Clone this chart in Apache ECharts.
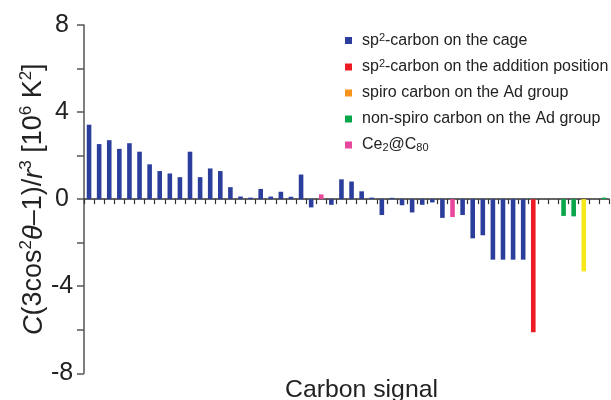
<!DOCTYPE html>
<html>
<head>
<meta charset="utf-8">
<script src="https://cdn.jsdelivr.net/npm/echarts@6/dist/echarts.min.js"></script>
<style>
html,body{margin:0;padding:0;background:#fff;}
#chart{width:611px;height:400px;}
</style>
</head>
<body>
<div id="chart"></div>
<script>
const categories = ['1','2','3','4','5','6','7','8','9','10','11','12','13','14','15','16','17','18','19','20','21','22','23','24','25','26','27','28','29','30','31','32','33','34','35','36','37','38','39','40','41','42','43','44','45','46','47','48','49','50','51','52'];

const cageValues = [3.42, 2.53, 2.71, 2.31, 2.57, 2.18, 1.60, 1.29, 1.18, 1.01, 2.18, 1.01, 1.41, 1.29, 0.55, 0.12, 0.07, 0.47, 0.12, 0.34, 0.11, 1.13, -0.38, '-', -0.26, 0.91, 0.81, 0.36, 0.07, -0.73, 0.06, -0.28, -0.61, -0.26, -0.15, -0.86, '-', -0.73, -1.80, -1.66, -2.78, -2.78, -2.78, -2.78, '-', '-', '-', '-', '-', '-', '-', '-'];
const additionValues = ['-','-','-','-','-','-','-','-','-','-','-','-','-','-','-','-','-','-','-','-','-','-','-','-','-','-','-','-','-','-','-','-','-','-','-','-','-','-','-','-','-','-','-','-', -6.12, '-','-','-','-','-','-','-'];
const spiroValues = ['-','-','-','-','-','-','-','-','-','-','-','-','-','-','-','-','-','-','-','-','-','-','-','-','-','-','-','-','-','-','-','-','-','-','-','-','-','-','-','-','-','-','-','-','-','-','-','-','-', -3.32, '-','-'];
const nonSpiroValues = ['-','-','-','-','-','-','-','-','-','-','-','-','-','-','-','-','-','-','-','-','-','-','-','-','-','-','-','-','-','-','-','-','-','-','-','-','-','-','-','-','-','-','-','-','-','-','-', -0.77, -0.79, '-','-', 0.07];
const ceValues = ['-','-','-','-','-','-','-','-','-','-','-','-','-','-','-','-','-','-','-','-','-','-','-', 0.22, '-','-','-','-','-','-','-','-','-','-','-','-', -0.82, '-','-','-','-','-','-','-','-','-','-','-','-','-','-','-'];

const yTicks = [-8, -4, 0, 4, 8];
const seriesNames = ['sp2-carbon on the cage', 'sp2-carbon on the addition position', 'spiro carbon on the Ad group', 'non-spiro carbon on the Ad group', 'Ce2@C80'];
const legendRich = {
  'sp2-carbon on the cage': '{n|sp}{sup|2}{n|-carbon on the cage}',
  'sp2-carbon on the addition position': '{n|sp}{sup|2}{n|-carbon on the addition position}',
  'spiro carbon on the Ad group': '{n|spiro carbon on the Ad group}',
  'non-spiro carbon on the Ad group': '{n|non-spiro carbon on the Ad group}',
  'Ce2@C80': '{n|Ce}{sub|2}{n|@C}{sub|80}'
};

const FONT = '"Liberation Sans", Arial, Helvetica, sans-serif';
const chart = echarts.init(document.getElementById('chart'), null, {renderer: 'canvas'});

function bar(name, data, color, extra) {
  return Object.assign({
    name: name,
    type: 'bar',
    stack: 'all',
    data: data,
    barWidth: 4.6,
    itemStyle: {color: color},
    emphasis: {disabled: true}
  }, extra || {});
}

const spiroData = spiroValues.map(v => v === '-' ? '-' : {value: v, itemStyle: {color: '#f6e81a'}});

chart.setOption({
  animation: false,
  textStyle: {fontFamily: FONT},
  grid: {left: 84, right: 2, top: 25, bottom: 26.7, containLabel: false, outerBoundsMode: 'none'},
  legend: {
    orient: 'vertical',
    left: 345,
    top: 32,
    padding: 0,
    itemWidth: 7,
    itemHeight: 7,
    itemGap: 10,
    icon: 'rect',
    data: seriesNames,
    selectedMode: false,
    formatter: name => legendRich[name],
    textStyle: {
      color: '#222',
      fontFamily: FONT,
      padding: [0, 0, 0, 5],
      rich: {
        n: {fontSize: 16, lineHeight: 17, color: '#222', fontFamily: FONT},
        sup: {fontSize: 11, lineHeight: 11, verticalAlign: 'top', color: '#222', fontFamily: FONT},
        sub: {fontSize: 11, lineHeight: 11, verticalAlign: 'bottom', color: '#222', fontFamily: FONT}
      }
    }
  },
  xAxis: {
    type: 'category',
    data: categories,
    boundaryGap: true,
    name: 'Carbon signal',
    nameLocation: 'middle',
    nameGap: 4,
    nameMoveOverlap: false,
    nameTextStyle: {fontSize: 24.8, color: '#222', fontFamily: FONT, padding: [0, 0, 0, 30]},
    axisLine: {onZero: true, lineStyle: {color: '#333', width: 1.5}},
    axisTick: {show: true, interval: 0, length: 5, lineStyle: {color: '#333', width: 1.2}},
    axisLabel: {show: false},
    splitLine: {show: false}
  },
  yAxis: {
    type: 'value',
    min: -8,
    max: 8,
    interval: 2,
    name: '{i|C}{n|(3cos}{sup|2}{i|θ}{n|–1)/}{i|r}{sup|3}{n| [10}{sup|6}{n| K}{sup|2}{n|]}',
    nameLocation: 'middle',
    nameGap: 34,
    nameMoveOverlap: false,
    nameTextStyle: {
      color: '#222',
      fontFamily: FONT,
      rich: {
        n: {fontSize: 27, lineHeight: 32, color: '#222', fontFamily: FONT},
        i: {fontSize: 27, lineHeight: 32, fontStyle: 'italic', color: '#222', fontFamily: FONT},
        sup: {fontSize: 17, lineHeight: 17, verticalAlign: 'top', color: '#222', fontFamily: FONT}
      }
    },
    axisLine: {show: true, lineStyle: {color: '#555', width: 1.5}},
    axisTick: {show: true, length: 7, lineStyle: {color: '#555', width: 1.5}},
    axisLabel: {
      fontSize: 25,
      color: '#222',
      fontFamily: FONT,
      align: 'center',
      margin: 22,
      formatter: v => (yTicks.indexOf(v) >= 0 ? String(v) : '')
    },
    splitLine: {show: false}
  },
  series: [
    bar(seriesNames[0], cageValues, '#2c3e9c'),
    bar(seriesNames[1], additionValues, '#ed1c24'),
    bar(seriesNames[2], spiroData, '#f7941d'),
    bar(seriesNames[3], nonSpiroValues, '#0aa64b'),
    bar(seriesNames[4], ceValues, '#e8479e')
  ]
});
</script>
</body>
</html>
